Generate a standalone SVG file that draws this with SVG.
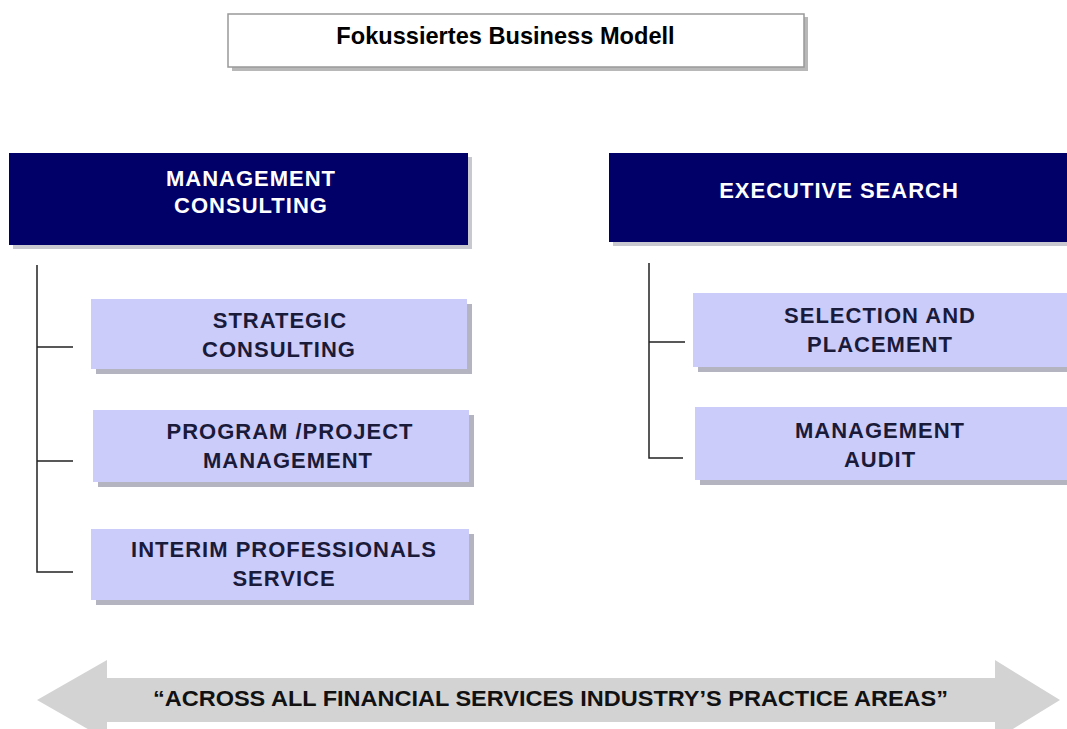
<svg xmlns="http://www.w3.org/2000/svg" width="1067" height="729" viewBox="0 0 1067 729">
<style>
.t{font-family:"Liberation Sans",Arial,sans-serif;font-weight:bold;text-anchor:middle;font-size:22px;letter-spacing:1px}
.hd{fill:#ffffff}
.sb{fill:#1a1a3a}
.box{fill:#ccccfa}
.sh{fill:#b4b4c0}
.nav{fill:#000068}
.ln{stroke:#222;stroke-width:1.5;fill:none}
</style>
<rect width="1067" height="729" fill="#ffffff"/>
<g id="title">
<rect x="232" y="17" width="576" height="54" fill="#b8b8b8"/>
<rect x="228" y="14" width="576" height="53" fill="#ffffff" stroke="#999" stroke-width="1.5"/>
<text x="505.5" y="44" font-family="'Liberation Sans',Arial,sans-serif" font-weight="bold" font-size="23.6" text-anchor="middle" fill="#000">Fokussiertes Business Modell</text>
</g>
<g id="mc">
<rect x="13" y="157" width="459" height="92" fill="#c8c8d0"/>
<rect class="nav" x="9" y="153" width="459" height="92"/>
<text class="t hd" x="251" y="186">MANAGEMENT</text>
<text class="t hd" x="251" y="213">CONSULTING</text>
</g>
<g id="es">
<rect x="613" y="157" width="454" height="89" fill="#c8c8d0"/>
<rect class="nav" x="609" y="153" width="458" height="89"/>
<text class="t hd" x="839" y="198">EXECUTIVE SEARCH</text>
</g>
<g id="connectors">
<path class="ln" d="M37 265 V572 H73 M37 347 H73 M37 461 H73"/>
<path class="ln" d="M649 263 V458 H683 M649 342 H685"/>
</g>
<g id="sc">
<rect class="sh" x="96" y="304" width="376" height="70"/>
<rect class="box" x="91" y="299" width="376" height="70"/>
<text class="t sb" x="280" y="328">STRATEGIC</text>
<text class="t sb" x="279" y="357">CONSULTING</text>
</g>
<g id="pm">
<rect class="sh" x="98" y="415" width="376" height="72"/>
<rect class="box" x="93" y="410" width="376" height="72"/>
<text class="t sb" x="290" y="439">PROGRAM /PROJECT</text>
<text class="t sb" x="288" y="468">MANAGEMENT</text>
</g>
<g id="ip">
<rect class="sh" x="96" y="534" width="378" height="71"/>
<rect class="box" x="91" y="529" width="378" height="71"/>
<text class="t sb" x="284" y="557">INTERIM PROFESSIONALS</text>
<text class="t sb" x="284" y="586">SERVICE</text>
</g>
<g id="sp">
<rect class="sh" x="698" y="298" width="369" height="74"/>
<rect class="box" x="693" y="293" width="374" height="74"/>
<text class="t sb" x="880" y="323">SELECTION AND</text>
<text class="t sb" x="880" y="352">PLACEMENT</text>
</g>
<g id="ma">
<rect class="sh" x="700" y="412" width="367" height="73"/>
<rect class="box" x="695" y="407" width="372" height="73"/>
<text class="t sb" x="880" y="438">MANAGEMENT</text>
<text class="t sb" x="880" y="467">AUDIT</text>
</g>
<g id="band">
<polygon points="37,700 107,660 107,678 995,678 995,660 1060,700 995,740 995,722 107,722 107,740" fill="#d3d3d3"/>
<text x="550.5" y="706" font-family="'Liberation Sans',Arial,sans-serif" font-weight="bold" font-size="22" text-anchor="middle" textLength="795" lengthAdjust="spacingAndGlyphs" fill="#111">“ACROSS ALL FINANCIAL  SERVICES INDUSTRY’S PRACTICE AREAS”</text>
</g>
</svg>
